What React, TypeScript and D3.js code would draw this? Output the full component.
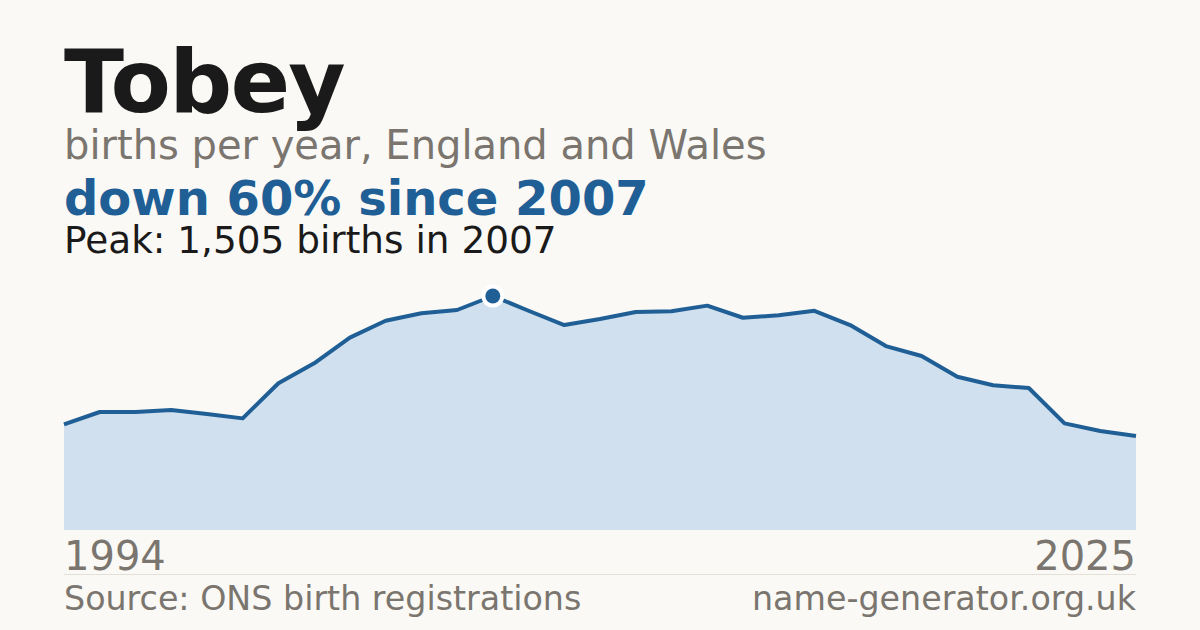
import React from "react";
import * as d3 from "d3";

const name = "Tobey";
const subtitle = "births per year, England and Wales";
const headline = "down 60% since 2007";
const peakNote = "Peak: 1,505 births in 2007";
const source = "Source: ONS birth registrations";
const site = "name-generator.org.uk";

const years = [
  1994, 1995, 1997, 1998, 1999, 2000, 2001, 2002, 2003, 2004, 2005, 2006, 2007,
  2008, 2009, 2010, 2011, 2012, 2013, 2014, 2015, 2016, 2017, 2018, 2019, 2020,
  2021, 2022, 2023, 2024, 2025,
];
const births = [
  680, 759, 759, 772, 746, 718, 944, 1072, 1237, 1346, 1394, 1415, 1505,
  1410, 1318, 1357, 1402, 1407, 1443, 1365, 1381, 1410, 1318, 1183, 1119, 986,
  931, 913, 686, 637, 605,
];
const peakYear = 2007;
const axisLabels = ["1994", "2025"];

const W = 1200;
const H = 630;
const left = 64;
const right = 1136;
const base = 530;
const top = 296;

const BG = "#faf9f5";
const BLUE = "#1f5f96";
const GREY = "#7a756e";
const FONT = "'DejaVu Sans', sans-serif";

export default function App() {
  const x = d3.scalePoint<number>().domain(years).range([left, right]);
  const y = d3.scaleLinear().domain([0, d3.max(births) as number]).range([base, top]);
  const pts = years.map((yr, i) => ({ yr, v: births[i] }));
  const area = d3
    .area<{ yr: number; v: number }>()
    .x((d) => x(d.yr) as number)
    .y0(base)
    .y1((d) => y(d.v));
  const line = d3
    .line<{ yr: number; v: number }>()
    .x((d) => x(d.yr) as number)
    .y((d) => y(d.v));
  const pi = years.indexOf(peakYear);
  const px = x(peakYear) as number;
  const py = y(births[pi]);

  return (
    <svg
      width={W}
      height={H}
      viewBox={`0 0 ${W} ${H}`}
      style={{ position: "absolute", left: 0, top: 0, display: "block" }}
      fontFamily={FONT}
    >
      <rect width={W} height={H} fill={BG} />
      <text x={left} y={112} fontSize={88} fontWeight="bold" fill="#1a1a1a" letterSpacing={-1.8}>
        {name}
      </text>
      <text x={left} y={159} fontSize={40} fill={GREY}>
        {subtitle}
      </text>
      <text x={left} y={215} fontSize={48} fontWeight="bold" fill={BLUE}>
        {headline}
      </text>
      <text x={left} y={253} fontSize={37.4} fill="#1a1a1a">
        {peakNote}
      </text>

      <path d={area(pts) as string} fill="#d0e0ef" />
      <path d={line(pts) as string} fill="none" stroke={BLUE} strokeWidth={4} strokeLinejoin="round" />
      <circle cx={px} cy={py} r={11.5} fill="#ffffff" />
      <circle cx={px} cy={py} r={7.5} fill={BLUE} />

      <text x={left} y={570} fontSize={40} fill={GREY}>
        {axisLabels[0]}
      </text>
      <text x={right} y={570} fontSize={40} fill={GREY} textAnchor="end">
        {axisLabels[1]}
      </text>
      <line x1={left} x2={right} y1={574.5} y2={574.5} stroke="#e3e0d8" strokeWidth={1} />
      <text x={left} y={610} fontSize={33.3} fill={GREY}>
        {source}
      </text>
      <text x={right} y={610} fontSize={33.3} fill={GREY} textAnchor="end">
        {site}
      </text>
    </svg>
  );
}
